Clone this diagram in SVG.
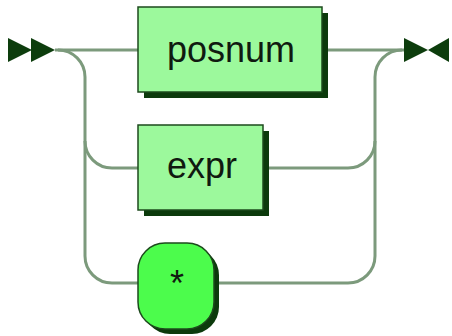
<svg xmlns="http://www.w3.org/2000/svg" width="452" height="336" viewBox="0 0 452 336">
<style>
.line{fill:none;stroke:#7c9a7c;stroke-width:3}
.shadow{fill:#0c3a0c}
.nt{fill:#9cf99c;stroke:#1d4a1d;stroke-width:1.5}
.t{fill:#4cfc4c;stroke:#1d4a1d;stroke-width:1.5}
.arrow{fill:#0d3d0d}
text{font-family:"Liberation Sans",Arial,sans-serif;font-size:36px;fill:#101a10;text-anchor:middle}
</style>
<rect width="452" height="336" fill="#ffffff"/>
<g id="connectors">
<path class="line" d="M55 50 H138"/>
<path class="line" d="M58 50 A27 27 0 0 1 85 77 V256 A27 27 0 0 0 112 283 H138"/>
<path class="line" d="M85 141 A27 27 0 0 0 112 168 H138"/>
<path class="line" d="M322 50 H404"/>
<path class="line" d="M263 168 H348 A27 27 0 0 0 375 141"/>
<path class="line" d="M214 283 H348 A27 27 0 0 0 375 256 V77 A27 27 0 0 1 402 50"/>
</g>
<g id="start">
<polygon class="arrow" points="8,38 32,50 8,62"/>
<polygon class="arrow" points="31,38 55,50 31,62"/>
</g>
<g id="end">
<polygon class="arrow" points="404,38 428,50 404,62"/>
<polygon class="arrow" points="449,38 428,50 449,62"/>
</g>
<g id="posnum">
<rect class="shadow" x="144" y="13" width="184" height="85"/>
<rect class="nt" x="138" y="7" width="184" height="85"/>
<text x="231" y="62">posnum</text>
</g>
<g id="expr">
<rect class="shadow" x="144" y="131" width="125" height="85"/>
<rect class="nt" x="138" y="125" width="125" height="85"/>
<text x="202" y="178">expr</text>
</g>
<g id="star">
<rect class="shadow" x="143" y="248" width="76" height="86" rx="27" ry="27"/>
<rect class="t" x="138" y="243" width="76" height="86" rx="27" ry="27"/>
<text x="177" y="296">*</text>
</g>
</svg>
